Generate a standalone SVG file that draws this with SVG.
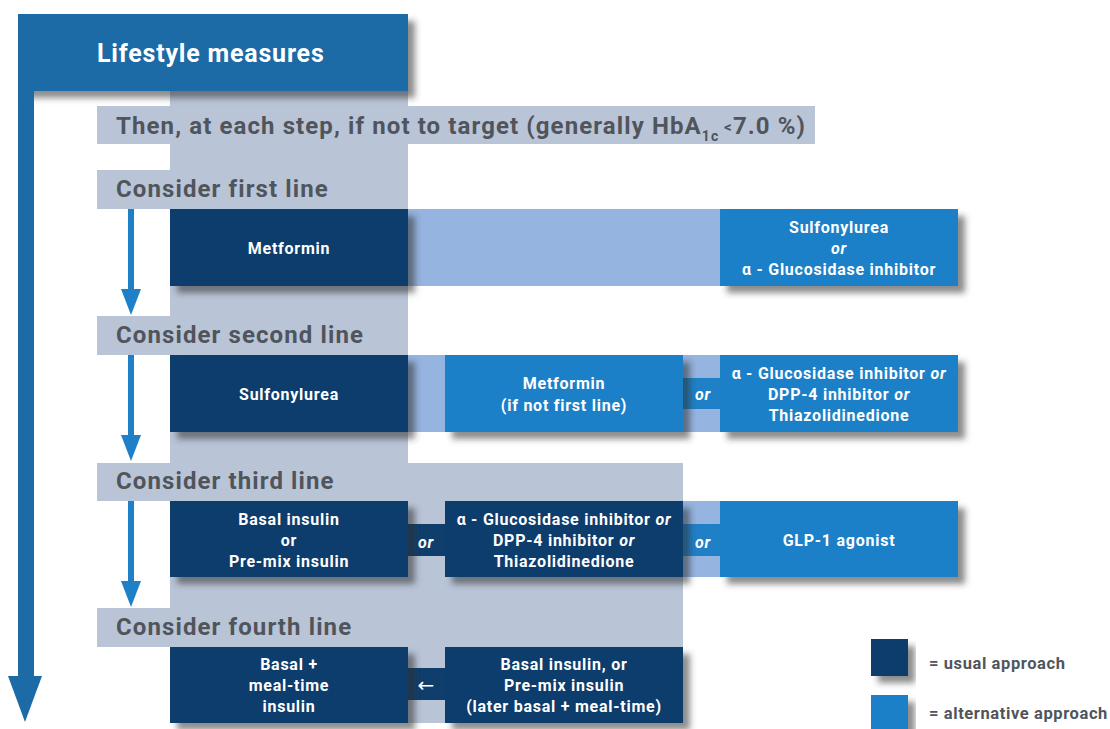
<svg xmlns="http://www.w3.org/2000/svg" width="1110" height="729" viewBox="0 0 1110 729">
<style>
.bg{fill:#ffffff}
.gray{fill:#b9c4d7}
.hdr{fill:#1d6ba6}
.usual{fill:#0f3e6c}
.alt{fill:#1f80c8}
.lite{fill:#95b4df}
.step{font-family:Roboto,"Liberation Sans",sans-serif;font-weight:700;font-size:24px;letter-spacing:1.1px;fill:#50555c}
.btxt{font-family:Roboto,"Liberation Sans",sans-serif;font-weight:700;font-size:16px;letter-spacing:0.75px;fill:#ffffff;text-anchor:middle}
.or{font-style:italic}
.leg{font-family:Roboto,"Liberation Sans",sans-serif;font-weight:700;font-size:16.5px;letter-spacing:0.6px;fill:#50555c}
.arrow{fill:#1f80c8}
</style>
<defs>
<filter id="sh" x="-10%" y="-20%" width="130%" height="160%">
<feDropShadow dx="7" dy="7" stdDeviation="3" flood-color="#333" flood-opacity="0.55"/>
</filter>
</defs>
<rect class="bg" x="0" y="0" width="1110" height="729"/>

<g id="backdrop">
<rect class="gray" x="170" y="91" width="238" height="380"/>
<rect class="gray" x="170" y="463" width="513" height="260"/>
</g>

<g id="lifestyle">
<rect class="hdr" x="18" y="14" width="390" height="77" filter="url(#sh)"/>
<rect class="hdr" x="18" y="14" width="16" height="666"/>
<polygon class="hdr" points="8,676 42,676 25,722"/>
<text x="97" y="62" style="font-family:Roboto,'Liberation Sans',sans-serif;font-weight:700;font-size:25px;letter-spacing:0.8px;fill:#ffffff">Lifestyle measures</text>
</g>

<g id="target">
<rect class="gray" x="97" y="106" width="718" height="38"/>
<text class="step" x="116" y="134">Then, at each step, if not to target (generally HbA<tspan font-size="14" dy="7">1c</tspan><tspan font-size="15" dy="-9"> &lt;</tspan><tspan dy="2">7.0 %)</tspan></text>
</g>

<g id="step1">
<rect class="gray" x="97" y="170" width="311" height="39"/>
<text class="step" x="116" y="197">Consider first line</text>
</g>
<g id="step2">
<rect class="gray" x="97" y="316" width="311" height="39"/>
<text class="step" x="116" y="343">Consider second line</text>
</g>
<g id="step3">
<rect class="gray" x="97" y="463" width="586" height="38"/>
<text class="step" x="116" y="489">Consider third line</text>
</g>
<g id="step4">
<rect class="gray" x="97" y="608" width="586" height="39"/>
<text class="step" x="116" y="635">Consider fourth line</text>
</g>

<g id="connectors">
<rect class="lite" x="408" y="209" width="312" height="77"/>
<rect class="lite" x="408" y="355" width="37" height="77"/>
<rect class="lite" x="683" y="355" width="37" height="77"/>
<rect class="alt" x="683" y="378" width="37" height="31"/>
<rect class="usual" x="408" y="524" width="37" height="32"/>
<rect class="lite" x="683" y="501" width="37" height="76"/>
<rect class="alt" x="683" y="524" width="37" height="32"/>
<rect class="usual" x="408" y="668" width="37" height="32"/>
<text class="btxt or" x="703" y="400">or</text>
<text class="btxt or" x="426" y="548">or</text>
<text class="btxt or" x="703" y="548">or</text>
<text x="426" y="692" style="font-family:'DejaVu Sans',sans-serif;font-size:20px;fill:#ffffff;text-anchor:middle">←</text>
<rect class="arrow" x="128" y="209" width="6" height="82"/>
<polygon class="arrow" points="121,289 141,289 131,315"/>
<rect class="arrow" x="128" y="355" width="6" height="82"/>
<polygon class="arrow" points="121,435 141,435 131,461"/>
<rect class="arrow" x="128" y="501" width="6" height="82"/>
<polygon class="arrow" points="121,581 141,581 131,607"/>
</g>

<g id="metformin1">
<rect class="usual" x="170" y="209" width="238" height="77" filter="url(#sh)"/>
<text class="btxt" x="289" y="254">Metformin</text>
</g>
<g id="alt1">
<rect class="alt" x="720" y="209" width="238" height="77" filter="url(#sh)"/>
<text class="btxt" x="839" y="233">Sulfonylurea</text>
<text class="btxt or" x="839" y="254">or</text>
<text class="btxt" x="839" y="275">α - Glucosidase inhibitor</text>
</g>

<g id="sulfonylurea2">
<rect class="usual" x="170" y="355" width="238" height="77" filter="url(#sh)"/>
<text class="btxt" x="289" y="400">Sulfonylurea</text>
</g>
<g id="metformin2">
<rect class="alt" x="445" y="355" width="238" height="77" filter="url(#sh)"/>
<text class="btxt" x="564" y="389">Metformin</text>
<text class="btxt" x="564" y="411">(if not first line)</text>
</g>
<g id="alt2">
<rect class="alt" x="720" y="355" width="238" height="77" filter="url(#sh)"/>
<text class="btxt" x="839" y="379">α - Glucosidase inhibitor <tspan class="or">or</tspan></text>
<text class="btxt" x="839" y="400">DPP-4 inhibitor <tspan class="or">or</tspan></text>
<text class="btxt" x="839" y="421">Thiazolidinedione</text>
</g>

<g id="insulin3">
<rect class="usual" x="170" y="501" width="238" height="76" filter="url(#sh)"/>
<text class="btxt" x="289" y="525">Basal insulin</text>
<text class="btxt" x="289" y="546">or</text>
<text class="btxt" x="289" y="567">Pre-mix insulin</text>
</g>
<g id="oral3">
<rect class="usual" x="445" y="501" width="238" height="76" filter="url(#sh)"/>
<text class="btxt" x="564" y="525">α - Glucosidase inhibitor <tspan class="or">or</tspan></text>
<text class="btxt" x="564" y="546">DPP-4 inhibitor <tspan class="or">or</tspan></text>
<text class="btxt" x="564" y="567">Thiazolidinedione</text>
</g>
<g id="glp1">
<rect class="alt" x="720" y="501" width="238" height="76" filter="url(#sh)"/>
<text class="btxt" x="839" y="546">GLP-1 agonist</text>
</g>

<g id="basalmeal4">
<rect class="usual" x="170" y="647" width="238" height="76" filter="url(#sh)"/>
<text class="btxt" x="289" y="670">Basal +</text>
<text class="btxt" x="289" y="691">meal-time</text>
<text class="btxt" x="289" y="712">insulin</text>
</g>
<g id="basal4">
<rect class="usual" x="445" y="647" width="238" height="76" filter="url(#sh)"/>
<text class="btxt" x="564" y="670">Basal insulin, or</text>
<text class="btxt" x="564" y="691">Pre-mix insulin</text>
<text class="btxt" x="564" y="712">(later basal + meal-time)</text>
</g>

<g id="legend">
<rect class="usual" x="871" y="639" width="37" height="37" filter="url(#sh)"/>
<text class="leg" x="929" y="669">= usual approach</text>
<rect class="alt" x="871" y="695" width="37" height="40" filter="url(#sh)"/>
<text class="leg" x="929" y="719">= alternative approach</text>
</g>
</svg>
